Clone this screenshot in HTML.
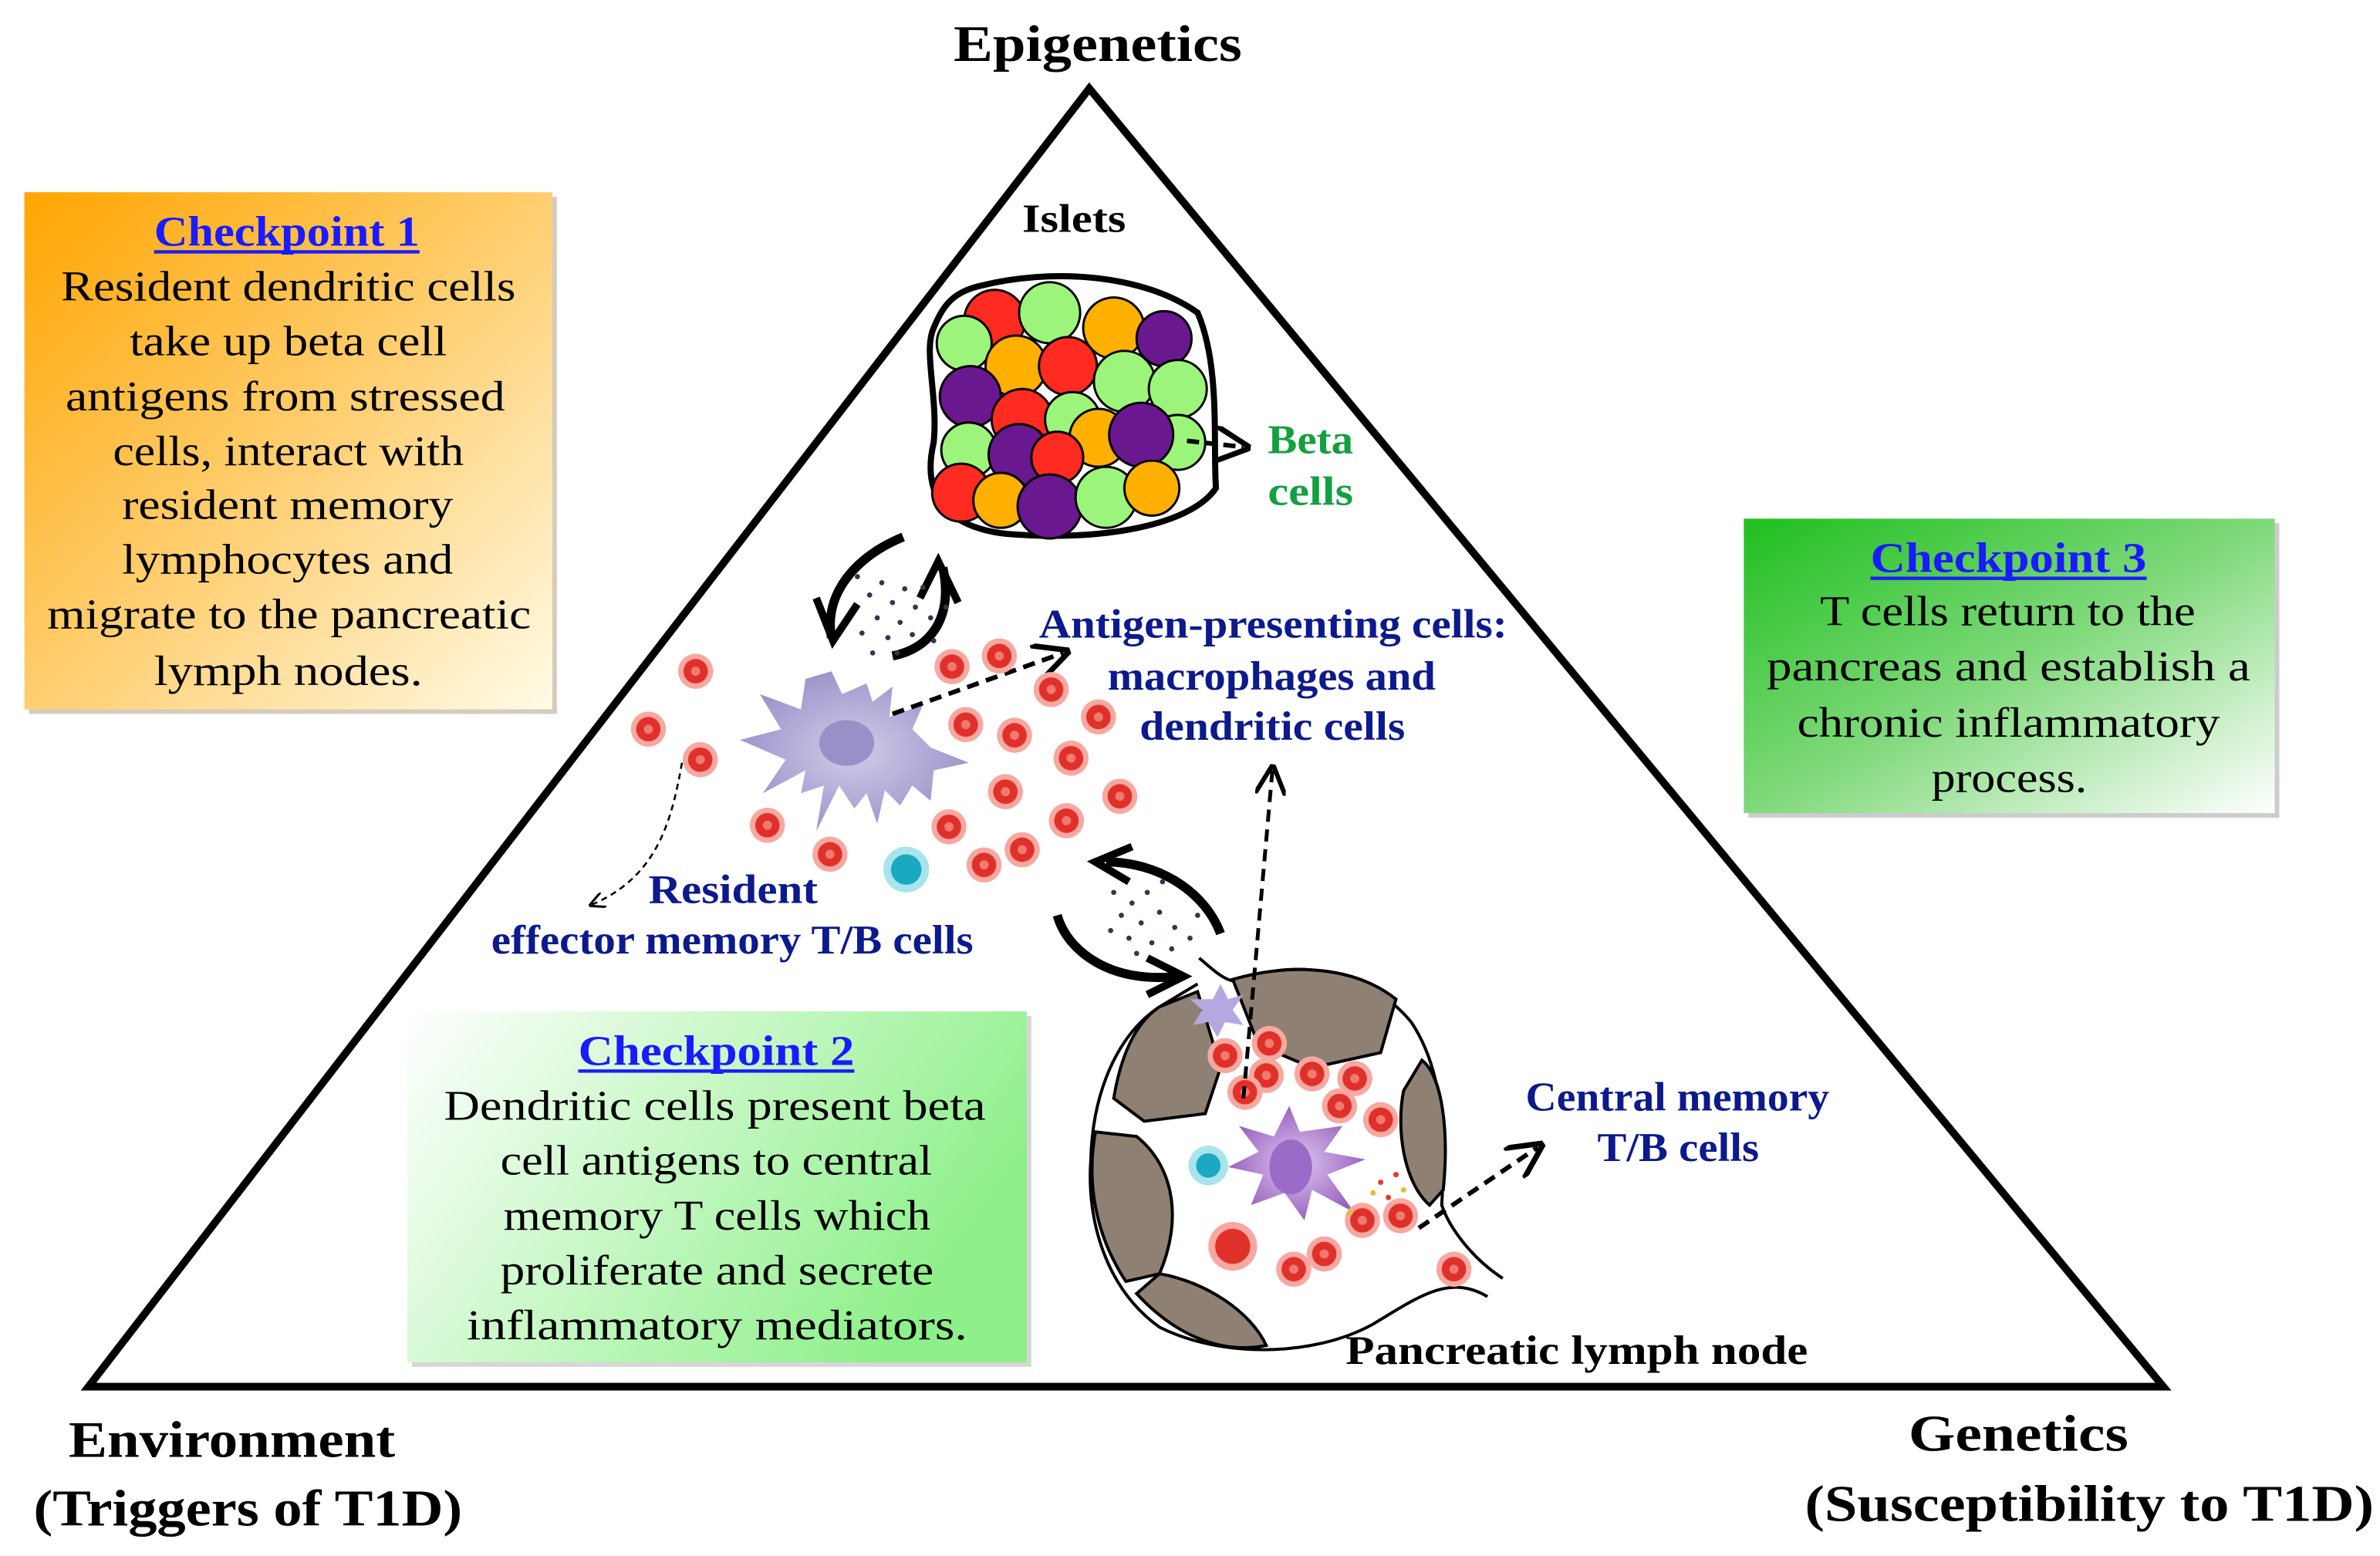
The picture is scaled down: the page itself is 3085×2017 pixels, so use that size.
<!DOCTYPE html>
<html><head><meta charset="utf-8"><style>
html,body{margin:0;padding:0;background:#fff;}
svg{display:block;}
text{font-family:"Liberation Serif",serif;}
</style></head><body>
<svg width="3085" height="2017" viewBox="0 0 1560 1020" preserveAspectRatio="none" xmlns="http://www.w3.org/2000/svg">
<defs>
<linearGradient id="g1" x1="0" y1="0" x2="1" y2="1"><stop offset="0" stop-color="#ffa500"/><stop offset="0.55" stop-color="#ffd27a"/><stop offset="1" stop-color="#fffbe6"/></linearGradient>
<linearGradient id="g3" x1="0" y1="0" x2="1" y2="1"><stop offset="0" stop-color="#1fbf1f"/><stop offset="0.5" stop-color="#7fd97a"/><stop offset="1" stop-color="#ffffff"/></linearGradient>
<linearGradient id="g2" x1="0" y1="0" x2="1" y2="0.4"><stop offset="0" stop-color="#ffffff"/><stop offset="1" stop-color="#8ef08a"/></linearGradient>
<radialGradient id="dc" cx="0.5" cy="0.5" r="0.5"><stop offset="0" stop-color="#d2cde8"/><stop offset="1" stop-color="#9f95cc"/></radialGradient>
<radialGradient id="dc2" cx="0.5" cy="0.5" r="0.5"><stop offset="0" stop-color="#e0c8f0"/><stop offset="1" stop-color="#9a64c0"/></radialGradient>
<g id="rc"><circle r="11.5" fill="#f7a8a0"/><circle r="8" fill="#e0302a"/><circle r="3" fill="#f07a70"/></g>
<g id="rcb"><circle r="16" fill="#f7a8a0"/><circle r="11.5" fill="#e0302a"/></g>
<marker id="ah" viewBox="0 0 10 10" refX="8" refY="5" markerWidth="5" markerHeight="5" orient="auto"><path d="M0,0 L10,5 L0,10 L3,5z" fill="#000"/></marker>
<marker id="ah2" viewBox="0 0 10 10" refX="8" refY="5" markerWidth="8" markerHeight="8" orient="auto"><path d="M0,0 L10,5 L0,10" fill="none" stroke="#000" stroke-width="1.5"/></marker>
</defs>

<!-- triangle -->
<polygon points="714,58 58,909 1418,909" fill="none" stroke="#000" stroke-width="5" stroke-linejoin="miter"/>

<!-- boxes -->
<rect x="19" y="129" width="346" height="339" fill="#b8a890" opacity="0.6"/>
<rect x="16" y="126" width="346" height="339" fill="url(#g1)"/>
<rect x="1146" y="343" width="348" height="193" fill="#aaa" opacity="0.6"/>
<rect x="1143" y="340" width="348" height="193" fill="url(#g3)"/>
<rect x="270" y="666" width="406" height="230" fill="#bbb" opacity="0.6"/>
<rect x="267" y="663" width="406" height="230" fill="url(#g2)"/>

<!-- islet -->
<path d="M640,188 C690,175 750,180 785,205 C800,240 795,290 797,320 C780,345 720,355 660,350 C615,345 605,320 612,290 C615,260 605,230 612,215 C618,200 625,192 640,188z" fill="#fff" stroke="#000" stroke-width="4"/>
<g stroke="#000" stroke-width="1.5">
<circle cx="652" cy="210" r="20" fill="#ff2a20"/><circle cx="688" cy="205" r="20" fill="#9cf57a"/><circle cx="730" cy="215" r="20" fill="#ffb000"/><circle cx="763" cy="222" r="18" fill="#6a1890"/>
<circle cx="632" cy="225" r="18" fill="#9cf57a"/><circle cx="666" cy="240" r="20" fill="#ffb000"/><circle cx="700" cy="240" r="19" fill="#ff2a20"/><circle cx="737" cy="250" r="20" fill="#9cf57a"/><circle cx="772" cy="255" r="19" fill="#9cf57a"/>
<circle cx="636" cy="260" r="20" fill="#6a1890"/><circle cx="670" cy="275" r="20" fill="#ff2a20"/><circle cx="703" cy="275" r="18" fill="#9cf57a"/><circle cx="720" cy="287" r="19" fill="#ffb000"/><circle cx="772" cy="290" r="18" fill="#9cf57a"/><circle cx="748" cy="285" r="21" fill="#6a1890"/>
<circle cx="635" cy="295" r="18" fill="#9cf57a"/><circle cx="668" cy="298" r="20" fill="#6a1890"/><circle cx="693" cy="300" r="17" fill="#ff2a20"/>
<circle cx="630" cy="323" r="19" fill="#ff2a20"/><circle cx="656" cy="328" r="18" fill="#ffb000"/><circle cx="688" cy="332" r="21" fill="#6a1890"/><circle cx="725" cy="326" r="20" fill="#9cf57a"/><circle cx="755" cy="320" r="18" fill="#ffb000"/>
</g>
<line x1="778" y1="289" x2="815" y2="293" stroke="#000" stroke-width="3" stroke-dasharray="8,4" marker-end="url(#ah2)"/>

<!-- curved arrows top -->
<path d="M592,352 C560,365 540,390 545,418" fill="none" stroke="#000" stroke-width="6"/>
<path d="M535,392 L546,420 L562,396" fill="none" stroke="#000" stroke-width="5"/>
<path d="M585,430 C610,425 625,405 618,372" fill="none" stroke="#000" stroke-width="6"/>
<path d="M603,392 L615,368 L628,395" fill="none" stroke="#000" stroke-width="5"/>
<g fill="#2a3a50">
<circle cx="570" cy="390" r="1.7"/><circle cx="578" cy="382" r="1.7"/><circle cx="585" cy="395" r="1.7"/><circle cx="593" cy="386" r="1.7"/><circle cx="575" cy="405" r="1.7"/><circle cx="590" cy="408" r="1.7"/><circle cx="600" cy="398" r="1.7"/><circle cx="582" cy="418" r="1.7"/><circle cx="598" cy="416" r="1.7"/><circle cx="610" cy="405" r="1.7"/><circle cx="565" cy="415" r="1.7"/><circle cx="572" cy="428" r="1.7"/><circle cx="605" cy="385" r="1.7"/><circle cx="620" cy="398" r="1.7"/><circle cx="588" cy="428" r="1.7"/><circle cx="562" cy="378" r="1.7"/><circle cx="612" cy="420" r="1.7"/>
</g>

<!-- resident DC -->
<path d="M545,440 L552,455 L568,448 L572,460 L585,450 L583,470 L605,462 L598,478 L610,490 L635,500 L612,505 L610,525 L598,515 L590,528 L580,518 L575,540 L568,520 L560,530 L550,515 L535,545 L540,515 L525,520 L528,505 L500,520 L515,498 L485,485 L512,478 L498,455 L525,465 L528,445z" fill="url(#dc)"/>
<ellipse cx="555" cy="487" rx="18" ry="15" fill="#9a90c8"/>
<line x1="585" y1="468" x2="697" y2="428" stroke="#000" stroke-width="3" stroke-dasharray="8,5" marker-end="url(#ah2)"/>
<path d="M447,500 C440,540 430,575 388,593" fill="none" stroke="#000" stroke-width="1.3" stroke-dasharray="4,3" marker-end="url(#ah2)"/>

<!-- red cells around -->
<use href="#rc" x="456" y="440"/><use href="#rc" x="425" y="478"/><use href="#rc" x="459" y="498"/><use href="#rc" x="503" y="541"/><use href="#rc" x="544" y="560"/>
<use href="#rc" x="624" y="437"/><use href="#rc" x="655" y="430"/><use href="#rc" x="689" y="452"/><use href="#rc" x="720" y="470"/><use href="#rc" x="633" y="475"/><use href="#rc" x="665" y="482"/><use href="#rc" x="702" y="497"/><use href="#rc" x="659" y="519"/><use href="#rc" x="734" y="522"/><use href="#rc" x="699" y="538"/><use href="#rc" x="622" y="542"/><use href="#rc" x="645" y="567"/><use href="#rc" x="670" y="557"/>
<circle cx="594" cy="570" r="15" fill="#a8e4ec"/><circle cx="594" cy="570" r="10" fill="#1aa9c0"/>

<!-- lower curved arrows -->
<path d="M800,612 C790,585 760,565 725,565" fill="none" stroke="#000" stroke-width="6"/>
<path d="M742,555 L718,565 L740,578" fill="none" stroke="#000" stroke-width="5"/>
<path d="M693,600 C700,625 730,645 772,640" fill="none" stroke="#000" stroke-width="6"/>
<path d="M752,628 L776,640 L752,652" fill="none" stroke="#000" stroke-width="5"/>
<g fill="#2a3a50">
<circle cx="730" cy="585" r="1.7"/><circle cx="742" cy="592" r="1.7"/><circle cx="752" cy="585" r="1.7"/><circle cx="735" cy="600" r="1.7"/><circle cx="748" cy="605" r="1.7"/><circle cx="760" cy="598" r="1.7"/><circle cx="770" cy="608" r="1.7"/><circle cx="740" cy="615" r="1.7"/><circle cx="755" cy="618" r="1.7"/><circle cx="768" cy="622" r="1.7"/><circle cx="780" cy="615" r="1.7"/><circle cx="728" cy="610" r="1.7"/><circle cx="745" cy="625" r="1.7"/><circle cx="785" cy="600" r="1.7"/><circle cx="762" cy="578" r="1.7"/>
</g>

<!-- lymph node -->
<path d="M786,628 C800,640 808,648 820,640 C860,628 900,640 925,670 C945,700 948,740 945,790 C950,805 965,825 985,838" fill="none" stroke="#000" stroke-width="2"/>
<path d="M975,850 C950,835 930,850 900,868 C860,890 800,890 760,870 C725,845 712,800 715,760 C716,720 730,680 760,660 L785,645" fill="none" stroke="#000" stroke-width="2"/>
<g fill="#8e8073" stroke="#000" stroke-width="2">
<path d="M808,642 C850,630 890,635 915,655 L905,690 L860,700 L825,685z"/>
<path d="M760,660 L785,650 L800,700 L790,730 L750,735 L730,720 C735,690 745,670 760,660z"/>
<path d="M718,742 L745,745 C770,765 775,800 760,835 L738,840 C718,810 712,775 718,742z"/>
<path d="M745,848 L760,835 C790,840 820,860 830,882 C800,888 770,875 745,848z"/>
<path d="M932,695 C945,705 950,740 946,780 L937,790 C920,775 915,740 920,715z"/>
</g>
<path d="M795,655 L800,645 L805,655 L815,652 L808,662 L815,672 L803,670 L798,680 L792,670 L782,672 L788,662 L780,655z" fill="#b5a8e0"/>
<use href="#rc" x="832" y="684"/><use href="#rc" x="803" y="692"/><use href="#rc" x="830" y="705"/><use href="#rc" x="860" y="704"/><use href="#rc" x="888" y="707"/><use href="#rc" x="878" y="725"/><use href="#rc" x="905" y="734"/>
<use href="#rc" x="816" y="716"/>
<path d="M845,725 L852,742 L880,738 L868,755 L895,760 L870,770 L888,795 L860,780 L855,800 L842,782 L820,790 L828,770 L805,765 L825,755 L812,738 L835,745z" fill="url(#dc2)"/>
<ellipse cx="846" cy="765" rx="14" ry="18" fill="#9a6cc8"/>
<circle cx="792" cy="764" r="13" fill="#a8e4ec"/><circle cx="792" cy="764" r="8" fill="#1aa9c0"/>
<use href="#rcb" x="808" y="817"/><use href="#rc" x="848" y="832"/><use href="#rc" x="868" y="822"/><use href="#rc" x="893" y="800"/><use href="#rc" x="918" y="797"/><use href="#rc" x="953" y="832"/>
<g fill="#e04030"><circle cx="905" cy="775" r="1.8"/><circle cx="915" cy="770" r="1.8"/><circle cx="910" cy="785" r="1.8"/></g>
<g fill="#e0c030"><circle cx="900" cy="782" r="1.8"/><circle cx="920" cy="780" r="1.8"/><circle cx="885" cy="795" r="1.8"/></g>
<line x1="815" y1="720" x2="834" y2="505" stroke="#000" stroke-width="2.5" stroke-dasharray="8,5" marker-end="url(#ah2)"/>
<line x1="930" y1="805" x2="1008" y2="752" stroke="#000" stroke-width="3" stroke-dasharray="8,5" marker-end="url(#ah2)"/>

<!-- texts -->
<text x="625" y="40" font-size="34" font-weight="bold" textLength="189" lengthAdjust="spacingAndGlyphs">Epigenetics</text>
<text x="670" y="152" font-size="26" font-weight="bold" textLength="68" lengthAdjust="spacingAndGlyphs">Islets</text>
<text x="831" y="297" font-size="27" font-weight="bold" fill="#13a040" textLength="56" lengthAdjust="spacingAndGlyphs">Beta</text>
<text x="831" y="331" font-size="27" font-weight="bold" fill="#13a040" textLength="56" lengthAdjust="spacingAndGlyphs">cells</text>
<g font-size="27" font-weight="bold" fill="#0c1a8c">
<text x="681" y="418" textLength="307" lengthAdjust="spacingAndGlyphs">Antigen-presenting cells:</text>
<text x="726" y="452" textLength="215" lengthAdjust="spacingAndGlyphs">macrophages and</text>
<text x="747" y="485" textLength="174" lengthAdjust="spacingAndGlyphs">dendritic cells</text>
<text x="425" y="592" textLength="111" lengthAdjust="spacingAndGlyphs">Resident</text>
<text x="322" y="625" textLength="316" lengthAdjust="spacingAndGlyphs">effector memory T/B cells</text>
<text x="1000" y="728" textLength="199" lengthAdjust="spacingAndGlyphs">Central memory</text>
<text x="1047" y="761" textLength="106" lengthAdjust="spacingAndGlyphs">T/B cells</text>
</g>
<text x="882" y="894" font-size="27" font-weight="bold" textLength="303" lengthAdjust="spacingAndGlyphs">Pancreatic lymph node</text>
<g font-size="34" font-weight="bold">
<text x="45" y="955" textLength="214" lengthAdjust="spacingAndGlyphs">Environment</text>
<text x="22" y="1000" textLength="281" lengthAdjust="spacingAndGlyphs">(Triggers of T1D)</text>
<text x="1251" y="951" textLength="144" lengthAdjust="spacingAndGlyphs">Genetics</text>
<text x="1183" y="997" textLength="373" lengthAdjust="spacingAndGlyphs">(Susceptibility to T1D)</text>
</g>

<!-- checkpoint texts -->
<g font-size="28">
<text x="101" y="161" font-weight="bold" fill="#1a1aff" textLength="174" lengthAdjust="spacingAndGlyphs">Checkpoint 1</text>
<rect x="101" y="164" width="174" height="2.2" fill="#1a1aff"/>
<text x="40" y="197" textLength="298" lengthAdjust="spacingAndGlyphs">Resident dendritic cells</text>
<text x="85" y="233" textLength="208" lengthAdjust="spacingAndGlyphs">take up beta cell</text>
<text x="43" y="269" textLength="288" lengthAdjust="spacingAndGlyphs">antigens from stressed</text>
<text x="74" y="305" textLength="230" lengthAdjust="spacingAndGlyphs">cells, interact with</text>
<text x="80" y="340" textLength="217" lengthAdjust="spacingAndGlyphs">resident memory</text>
<text x="80" y="376" textLength="217" lengthAdjust="spacingAndGlyphs">lymphocytes and</text>
<text x="31" y="412" textLength="317" lengthAdjust="spacingAndGlyphs">migrate to the pancreatic</text>
<text x="101" y="449" textLength="176" lengthAdjust="spacingAndGlyphs">lymph nodes.</text>

<text x="1226" y="375" font-weight="bold" fill="#1a1aff" textLength="181" lengthAdjust="spacingAndGlyphs">Checkpoint 3</text>
<rect x="1226" y="378" width="181" height="2.2" fill="#1a1aff"/>
<text x="1193" y="410" textLength="246" lengthAdjust="spacingAndGlyphs">T cells return to the</text>
<text x="1158" y="446" textLength="317" lengthAdjust="spacingAndGlyphs">pancreas and establish  a</text>
<text x="1178" y="483" textLength="277" lengthAdjust="spacingAndGlyphs">chronic inflammatory</text>
<text x="1266" y="519" textLength="102" lengthAdjust="spacingAndGlyphs">process.</text>

<text x="379" y="698" font-weight="bold" fill="#1a1aff" textLength="181" lengthAdjust="spacingAndGlyphs">Checkpoint 2</text>
<rect x="379" y="701" width="181" height="2.2" fill="#1a1aff"/>
<text x="291" y="734" textLength="355" lengthAdjust="spacingAndGlyphs">Dendritic cells  present beta</text>
<text x="328" y="770" textLength="283" lengthAdjust="spacingAndGlyphs">cell antigens to central</text>
<text x="330" y="806" textLength="280" lengthAdjust="spacingAndGlyphs">memory T cells which</text>
<text x="328" y="842" textLength="284" lengthAdjust="spacingAndGlyphs">proliferate and secrete</text>
<text x="306" y="878" textLength="328" lengthAdjust="spacingAndGlyphs">inflammatory   mediators.</text>
</g>
</svg>
</body></html>
